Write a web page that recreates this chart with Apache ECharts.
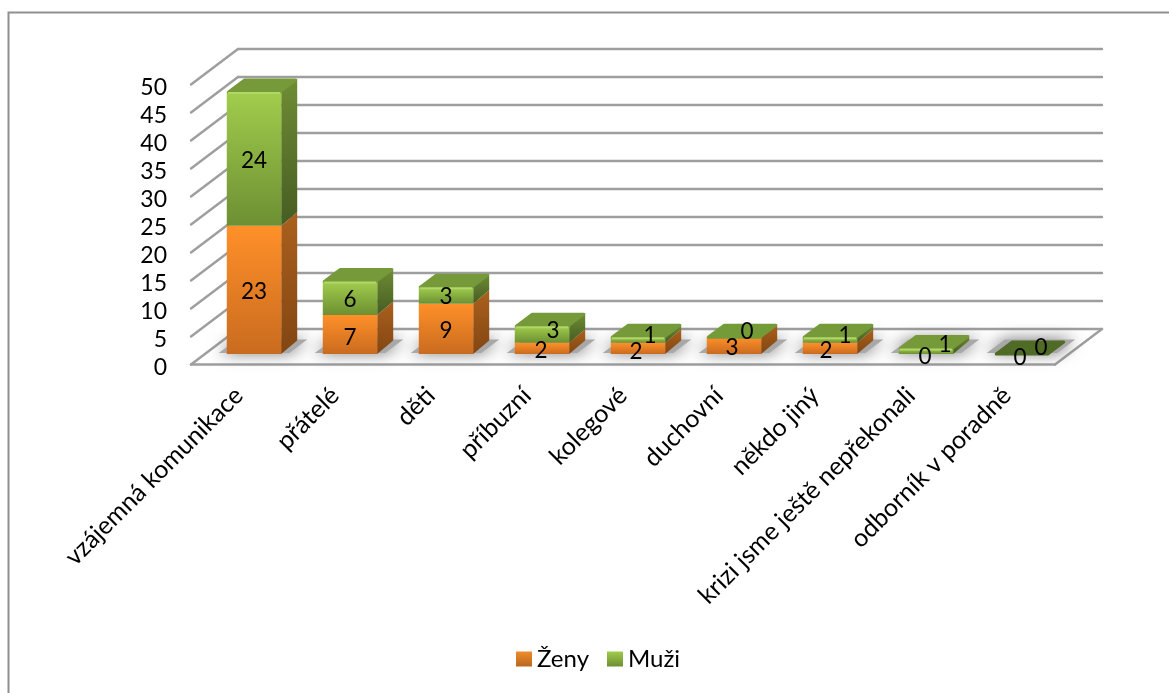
<!DOCTYPE html>
<html>
<head>
<meta charset="utf-8">
<style>html,body{margin:0;padding:0;background:#fff}#c{width:1169px;height:693px}</style>
<script src="https://cdn.jsdelivr.net/npm/echarts@6/dist/echarts.min.js"></script>
</head>
<body>
<div id="c"></div>
<script>
const categories = ['vzájemná komunikace','přátelé','děti','příbuzní','kolegové','duchovní','někdo jiný','krizi jsme ještě nepřekonali','odborník v poradně'];
const zeny = [23,7,9,2,2,3,2,0,0];
const muzi = [24,6,3,3,1,0,1,1,0];
const valueTicks = {min:0,max:50,interval:5};

// picture-space constants of the fake 3D projection
const WALL = [47,-35.5], BAR_SHIFT = [15,-10.5], BAR_DEPTH = [16,-13.5], BAR_RATIO = 0.567, BAR_SCALE = 0.995;
const zenyNudge = [[0,2],[0,3],[0,2],[-1,2],[-2,3],[-2,2],[-4,2],[-1,3],[-2,4]];
const muziNudge = [[0,1.5],[0,1],[0,1],[11,-4],[12,-4],[13,-6],[15,-4],[19,-6],[19,-6]];
const GRID = '#9e9e9e';
const lin = (a,b) => ({type:'linear',x:0,y:0,x2:0,y2:1,colorStops:[{offset:0,color:a},{offset:1,color:b}]});

function barBox(api,i,lo,hi){
  const p0 = api.coord([i,0]), bw = api.size([1,0])[0]*BAR_RATIO;
  const scale = v => p0[1] + (api.coord([i,v])[1]-p0[1])*BAR_SCALE + BAR_SHIFT[1];
  const cx = p0[0]+BAR_SHIFT[0];
  return {l:cx-bw/2,r:cx+bw/2,cx,yLo:scale(lo),yHi:scale(hi)};
}
function poly(points,fill,extra){
  return {type:'polygon',shape:{points},style:Object.assign({fill},extra||{})};
}
function makeBar(pal){
  return function(params,api){
    const i=api.value(0), lo=api.value(1), v=api.value(2);
    const b=barBox(api,i,lo,lo+v), [dx,dy]=BAR_DEPTH, kids=[];
    if(v>0){
      kids.push(poly([[b.r,b.yHi],[b.r+dx,b.yHi+dy],[b.r+dx,b.yLo+dy],[b.r,b.yLo]],lin(pal.side[0],pal.side[1])));
      kids.push({type:'rect',shape:{x:b.l,y:b.yHi,width:b.r-b.l,height:b.yLo-b.yHi},style:{fill:lin(pal.front[0],pal.front[1])}});
    }
    if(pal.top){
      const top = v===0 ? (lo===0 ? pal.topFlat : pal.topZero) : pal.top;
      kids.push(poly([[b.l+1.5,b.yHi],[b.r-1.5,b.yHi],[b.r+dx-1.5,b.yHi+dy+1.5],[b.l+dx+1.5,b.yHi+dy+1.5]],top,{stroke:top,lineWidth:3,lineJoin:'round'}));
      if(v>0) kids.push({type:'line',shape:{x1:b.l+1,y1:b.yHi+1,x2:b.r-1,y2:b.yHi+1},style:{stroke:pal.edge,lineWidth:2}});
    }
    return {type:'group',children:kids};
  };
}
const orangePal={front:['#ff9029','#c96b1f'],side:['#ab601d','#824612']};
const greenPal={front:['#a1cd4d','#6d8f32'],side:['#6f8d34','#465c22'],top:'#76993a',topZero:'#739c38',topFlat:'#4f6b26',edge:'#b0d768'};

const wallItems=(params,api)=>{
  const v=api.value(0), half=api.size([1,0])[0]/2;
  const a=api.coord([0,v]), z=api.coord([categories.length-1,v]);
  const f0=[a[0]-half,a[1]], f1=[z[0]+half,z[1]];
  const back=[f0[0]+WALL[0],f0[1]+WALL[1]], backR=[f1[0]+WALL[0],f1[1]+WALL[1]];
  const ls={stroke:GRID,lineWidth:2.4,fill:null,lineCap:'round'};
  const kids=[
    {type:'line',shape:{x1:f0[0],y1:f0[1],x2:back[0],y2:back[1]},style:ls},
    {type:'line',shape:{x1:back[0],y1:back[1],x2:backR[0],y2:backR[1]},style:ls}
  ];
  if(v===0){
    kids.push({type:'line',shape:{x1:f0[0],y1:f0[1],x2:f1[0],y2:f1[1]},style:ls});
    kids.push({type:'line',shape:{x1:f1[0],y1:f1[1],x2:backR[0],y2:backR[1]},style:ls});
  }
  return {type:'group',children:kids};
};
const shadowItem=(params,api)=>{
  const b=barBox(api,api.value(0),0,0), [dx,dy]=BAR_DEPTH;
  return {type:'polygon',shape:{points:[[b.l-8,b.yLo-1],[b.r+8,b.yLo-1],[b.r+dx+10,b.yLo+dy-1],[b.l+dx-6,b.yLo+dy-1]]},
    style:{fill:'#a8a8a8',shadowBlur:16,shadowColor:'rgba(110,110,110,1)'}};
};
const labelItem=(params,api)=>{
  const i=api.value(0), lo=api.value(1), v=api.value(2), s=api.value(3);
  const b=barBox(api,i,lo,lo+v), n=(s?muziNudge:zenyNudge)[i];
  return {type:'text',x:b.cx+n[0],y:(b.yLo+b.yHi)/2+n[1],
    style:{text:String(v),font:'22.5px Lato',fill:'#000',align:'center',verticalAlign:'middle'}};
};

const ticks=[]; for(let v=valueTicks.min;v<=valueTicks.max;v+=valueTicks.interval) ticks.push([v]);
const idx=categories.map((_,i)=>i);
const custom=(name,render,data,z)=>({type:'custom',name,renderItem:render,data,z,silent:true,animation:false,clip:false});

const chart=echarts.init(document.getElementById('c'),null,{renderer:'canvas'});
chart.setOption({
  animation:false,
  backgroundColor:'#fff',
  textStyle:{fontFamily:'Lato'},
  graphic:[{type:'polyline',silent:true,shape:{points:[[8.5,700],[8.5,12.5],[1175,12.5]]},
    style:{stroke:'#8f8f8f',lineWidth:2,fill:null}}],
  grid:{left:191,right:114,top:84.5,bottom:328.5,containLabel:false},
  legend:{left:511,top:642,itemWidth:16,itemHeight:15,itemGap:18,icon:'rect',data:['Ženy','Muži'],selectedMode:false,
    textStyle:{fontFamily:'Lato',fontSize:24,color:'#000',padding:[0,0,0,0]}},
  xAxis:{type:'category',data:categories,axisLine:{show:false},axisTick:{show:false},splitLine:{show:false},
    axisLabel:{interval:0,rotate:45,margin:27,fontFamily:'Lato',fontSize:25,color:'#000'}},
  yAxis:{type:'value',min:valueTicks.min,max:valueTicks.max,interval:valueTicks.interval,axisLine:{show:false},axisTick:{show:false},splitLine:{show:false},
    axisLabel:{margin:24,fontFamily:'Lato',fontSize:23,color:'#000',verticalAlign:'top',lineHeight:6}},
  series:[
    custom('wall',wallItems,ticks.map(t=>[t[0]]),1),
    custom('shadow',shadowItem,idx.map(i=>[i]),2),
    Object.assign(custom('Ženy',makeBar(orangePal),idx.map(i=>[i,0,zeny[i]]),3),{itemStyle:{color:lin('#ee8c2c','#b9661c')}}),
    Object.assign(custom('Muži',makeBar(greenPal),idx.map(i=>[i,zeny[i],muzi[i]]),4),{itemStyle:{color:lin('#a0cb4c','#6d8f32')}}),
    custom('labels',labelItem,idx.map(i=>[i,0,zeny[i],0]).concat(idx.map(i=>[i,zeny[i],muzi[i],1])),5)
  ]
});
</script>
</body>
</html>
